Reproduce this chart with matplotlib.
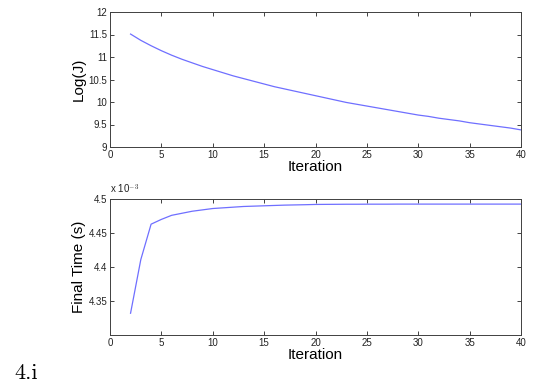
import numpy as np
import matplotlib
matplotlib.use("Agg")
import matplotlib.pyplot as plt
from matplotlib.ticker import FuncFormatter

plt.rcParams['font.family'] = ['Liberation Sans', 'DejaVu Sans']
plt.rcParams['mathtext.fontset'] = 'cm'

iterations = list(range(2, 41))

log_j = [11.51, 11.37, 11.25, 11.14, 11.04, 10.95, 10.87, 10.79, 10.72,
         10.65, 10.58, 10.52, 10.46, 10.40, 10.34, 10.29, 10.24, 10.19,
         10.14, 10.09, 10.04, 9.99, 9.95, 9.91, 9.87, 9.83, 9.79, 9.75,
         9.71, 9.68, 9.64, 9.61, 9.58, 9.54, 9.51, 9.48, 9.45, 9.42, 9.38]

# final time in ms units (x 1e-3 s)
final_time = [4.332, 4.411, 4.463, 4.470, 4.476, 4.479, 4.482, 4.484,
              4.486, 4.487, 4.488, 4.489, 4.4895, 4.490, 4.4905, 4.491,
              4.4913, 4.4916, 4.492, 4.4921, 4.4922, 4.4923, 4.4923,
              4.4924, 4.4924, 4.4924, 4.4925, 4.4925, 4.4925, 4.4925,
              4.4925, 4.4925, 4.4925, 4.4925, 4.4925, 4.4925, 4.4925,
              4.4925, 4.4925]

x_ticks = [0, 5, 10, 15, 20, 25, 30, 35, 40]
top_yticks = [9, 9.5, 10, 10.5, 11, 11.5, 12]
bottom_yticks = [4.35, 4.40, 4.45, 4.50]

W, H = 534, 383
fig = plt.figure(figsize=(W / 100, H / 100), dpi=100)

ax1 = fig.add_axes([110 / W, 1 - 147 / H, 411 / W, 135 / H])
ax2 = fig.add_axes([110 / W, 1 - 335 / H, 411 / W, 136 / H])

line_color = '#6f6fff'
spine_color = '#404040'

ax1.plot(iterations, log_j, color=line_color, lw=0.9)
ax1.set_xlim(0, 40)
ax1.set_ylim(9, 12)
ax1.set_xticks(x_ticks)
ax1.set_yticks(top_yticks)
ax1.yaxis.set_major_formatter(FuncFormatter(lambda v, p: '%g' % v))
ax1.set_xlabel('Iteration', fontsize=11, labelpad=0)
ax1.set_ylabel('Log(J)', fontsize=11, labelpad=2)

ax2.plot(iterations, np.array(final_time) * 1e-3, color=line_color, lw=0.9)
ax2.set_xlim(0, 40)
ax2.set_ylim(4.30e-3, 4.50e-3)
ax2.set_xticks(x_ticks)
ax2.set_yticks(np.array(bottom_yticks) * 1e-3)
ax2.yaxis.set_major_formatter(FuncFormatter(lambda v, p: '%g' % round(v * 1e3, 3)))
ax2.text(0.0, 1.02, r'x 10$^{-3}$', transform=ax2.transAxes, fontsize=7,
         ha='left', va='bottom', color='#222222')
ax2.set_xlabel('Iteration', fontsize=11, labelpad=0)
ax2.set_ylabel('Final Time (s)', fontsize=11, labelpad=2)

for ax in (ax1, ax2):
    ax.tick_params(direction='in', top=True, right=True, length=3,
                   width=0.6, labelsize=7, colors='#222222', pad=2)
    for s in ax.spines.values():
        s.set_color(spine_color)
        s.set_linewidth(0.7)

fig.text(14 / W, 1 - 379 / H, '4.i', fontsize=16, family='cmr10',
         ha='left', va='baseline')

fig.savefig('out.png', dpi=100)
